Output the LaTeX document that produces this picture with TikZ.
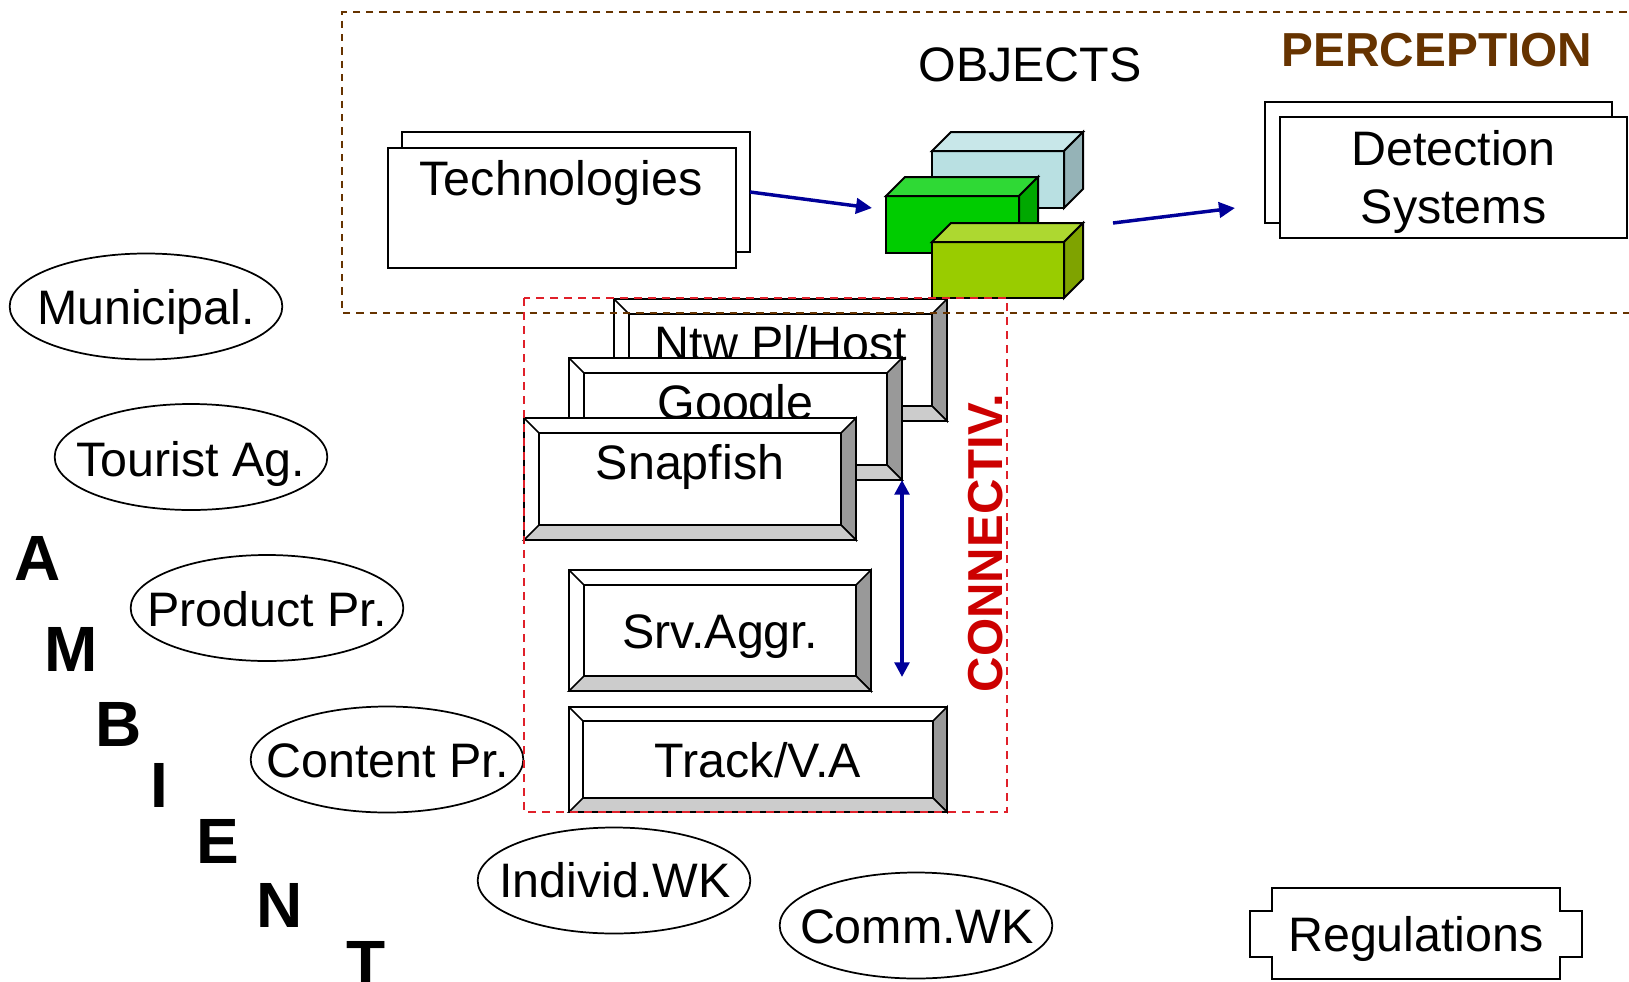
\documentclass[tikz,border=0pt]{standalone}
\usepackage{fontspec}
\setmainfont{Liberation Sans}
\usetikzlibrary{arrows.meta,shapes.geometric}
\definecolor{flowblue}{HTML}{000099}
\definecolor{percbrown}{HTML}{663300}
\definecolor{connred}{HTML}{CC0000}
\definecolor{dashred}{HTML}{E0202A}
\definecolor{bevgray}{HTML}{999999}
\definecolor{bevlight}{HTML}{CCCCCC}
\definecolor{bluefront}{HTML}{B9E0E2}
\definecolor{bluetop}{HTML}{C8E7E9}
\definecolor{blueside}{HTML}{95B3B7}
\definecolor{greenfront}{HTML}{00CC00}
\definecolor{greentop}{HTML}{2FD935}
\definecolor{greenside}{HTML}{00A800}
\definecolor{limefront}{HTML}{99CC00}
\definecolor{limetop}{HTML}{ADD830}
\definecolor{limeside}{HTML}{7FA300}
\newcommand{\bigfont}{\fontsize{36.3}{40}\selectfont}
\newcommand{\percfont}{\fontsize{35.8}{40}\selectfont\bfseries}
\newcommand{\connfont}{\fontsize{36.8}{40}\selectfont\bfseries}
\newcommand{\ambfont}{\fontsize{48}{50}\selectfont\bfseries}
\tikzset{
  lbl/.style={font=\bigfont,anchor=base,inner sep=0pt,outer sep=0pt},
  ambi/.style={font=\ambfont,inner sep=0pt,anchor=base},
  flow/.style={draw=flowblue,line width=2.6pt,-{Triangle[length=12pt,width=11.5pt]}},
  flowtwo/.style={draw=flowblue,line width=2.6pt,{Triangle[length=11pt,width=11pt]}-{Triangle[length=11pt,width=11pt]}},
  plainbox/.style={draw=black,fill=white,line width=1.5pt,inner sep=0pt,outer sep=0pt},
  edge1/.style={draw=black,line width=1.3pt,line join=miter},
  oval/.style={shape=ellipse,draw=black,fill=white,line width=1.3pt,inner sep=0pt,outer sep=0pt,
    minimum width=204.5pt,minimum height=79.5pt},
  brownbox/.style={draw=percbrown,line width=1pt,dash pattern=on 5.5pt off 4.5pt},
  redbox/.style={draw=dashred,line width=1pt,dash pattern=on 6pt off 4.5pt}
}
% name x0 y0 x1 y1 bevel
\newcommand{\bevelbox}[6]{%
  \pgfmathsetmacro{\xa}{#2+#6}\pgfmathsetmacro{\ya}{#3+#6}%
  \pgfmathsetmacro{\xb}{#4-#6}\pgfmathsetmacro{\yb}{#5-#6}%
  \pgfmathsetmacro{\bw}{(#4-#2)*0.75}\pgfmathsetmacro{\bh}{(#5-#3)*0.75}%
  \pgfmathsetmacro{\cx}{(#2+#4)/2}\pgfmathsetmacro{\cy}{(#3+#5)/2}%
  \node[plainbox,minimum width=\bw pt,minimum height=\bh pt] (#1) at (\cx,\cy) {};
  \filldraw[edge1,fill=bevgray] (#4,#3) -- (\xb,\ya) -- (\xb,\yb) -- (#4,#5) -- cycle;
  \filldraw[edge1,fill=bevlight] (#2,#5) -- (\xa,\yb) -- (\xb,\yb) -- (#4,#5) -- cycle;
  \draw[edge1] (#2,#3) -- (\xa,\ya) -- (\xa,\yb) (\xa,\ya) -- (\xb,\ya);
}
% name x0 y0 x1 y1 (front) depth colour-prefix
\newcommand{\cuboid}[7]{%
  \pgfmathsetmacro{\bw}{(#4-#2)*0.75}\pgfmathsetmacro{\bh}{(#5-#3)*0.75}%
  \pgfmathsetmacro{\cx}{(#2+#4)/2}\pgfmathsetmacro{\cy}{(#3+#5)/2}%
  \pgfmathsetmacro{\xa}{#2+#6}\pgfmathsetmacro{\xb}{#4+#6}%
  \pgfmathsetmacro{\ya}{#3-#6}\pgfmathsetmacro{\yb}{#5-#6}%
  \node[draw=black,fill=#7front,line width=1.5pt,inner sep=0pt,outer sep=0pt,minimum width=\bw pt,minimum height=\bh pt] (#1) at (\cx,\cy) {};
  \filldraw[draw=black,line width=1.5pt,line join=miter,fill=#7top] (#2,#3) -- (\xa,\ya) -- (\xb,\ya) -- (#4,#3) -- cycle;
  \filldraw[draw=black,line width=1.5pt,line join=miter,fill=#7side] (#4,#3) -- (\xb,\ya) -- (\xb,\yb) -- (#4,#5) -- cycle;
}
\begin{document}
\begin{tikzpicture}[x=.75pt,y=-.75pt]
\clip (0,0) rectangle (1629,982);

% Technologies
\node[plainbox,minimum width=261pt,minimum height=90pt] (techback) at (576,192) {};
\node[plainbox,minimum width=261pt,minimum height=90pt] (techfront) at (561.5,207.5) {};
\node[lbl] (techtext) at (561,195.5) {Technologies};

% Detection Systems
\node[plainbox,minimum width=260.5pt,minimum height=91pt] (detback) at (1438.5,162.5) {};
\node[plainbox,minimum width=260.5pt,minimum height=91pt] (detfront) at (1453.5,177.5) {};
\node[lbl] (dettexta) at (1453.5,165) {Detection};
\node[lbl] (dettextb) at (1453.5,223) {Systems};

% Objects
\cuboid{cubeblue}{932}{151}{1064}{208}{19}{blue}
\cuboid{cubegreen}{886}{196}{1019}{253}{19}{green}
\cuboid{cubelime}{932}{242}{1064}{298}{19}{lime}

\node[lbl] (objtext) at (1030,81) {OBJECTS};
\node[font=\percfont,text=percbrown,anchor=base,inner sep=0pt] (perctext) at (1437,66) {PERCEPTION};

% Connectivity boxes
\bevelbox{ntw}{614}{299}{947}{421}{15}
\node[lbl] (ntwtext) at (781,360) {Ntw Pl/Host};
\bevelbox{google}{569}{358}{902}{480}{15}
\node[lbl] (googletext) at (735.5,419) {Google};
\bevelbox{snap}{524}{418}{856}{540}{15}
\node[lbl] (snaptext) at (690,479) {Snapfish};
\bevelbox{srv}{569}{570}{871}{691}{15}
\node[lbl] (srvtext) at (720,648) {Srv.Aggr.};
\bevelbox{track}{569}{707}{947}{812}{14}
\node[lbl] (tracktext) at (758,777) {Track/V.A};

% Ellipses
\node[oval] (muni) at (146,306.5) {};
\node[lbl] (munitext) at (146,324) {Municipal.};
\node[oval] (tour) at (191,457) {};
\node[lbl] (tourtext) at (191,476) {Tourist Ag.};
\node[oval] (prod) at (267,608) {};
\node[lbl] (prodtext) at (267,626) {Product Pr.};
\node[oval] (cont) at (387,759.5) {};
\node[lbl] (conttext) at (387.5,777.5) {Content Pr.};
\node[oval] (indi) at (614,880.5) {};
\node[lbl] (inditext) at (615,897.5) {Individ.WK};
\node[oval] (comm) at (916,925.5) {};
\node[lbl] (commtext) at (917,943) {Comm.WK};

% Regulations
\draw[plainbox] (1272,888) -- (1560,888) -- (1560,911) -- (1582,911) -- (1582,957) -- (1560,957) -- (1560,979) -- (1272,979) -- (1272,957) -- (1250,957) -- (1250,911) -- (1272,911) -- cycle;
\node[lbl] (regtext) at (1416,951) {Regulations};

% AMBIENT
\node[ambi] (la) at (38,580) {A};
\node[ambi] (lm) at (71,671) {M};
\node[ambi] (lb) at (119,746) {B};
\node[ambi] (li) at (159,807) {I};
\node[ambi] (le) at (218,863) {E};
\node[ambi] (ln) at (280,927) {N};
\node[ambi] (lt) at (366,985) {T};

% Arrows
\coordinate (techout) at (750,192);
\coordinate (cubein) at (872,208);
\coordinate (cubeout) at (1113,223);
\coordinate (detin) at (1235,208);
\coordinate (vtop) at (902,480);
\coordinate (vbot) at (902,677);
\draw[flow] (techout) -- (cubein);
\draw[flow] (cubeout) -- (detin);
\draw[flowtwo] (vtop) -- (vbot);

% Dashed frames
\draw[brownbox] (1640,12) -- (342,12) -- (342,313) -- (1640,313);
\draw[redbox] (524,298) rectangle (1007,812);
\node[font=\connfont,text=connred,rotate=90,inner sep=0pt] (conntext) at (986,543) {CONNECTIV.};
\end{tikzpicture}
\end{document}
